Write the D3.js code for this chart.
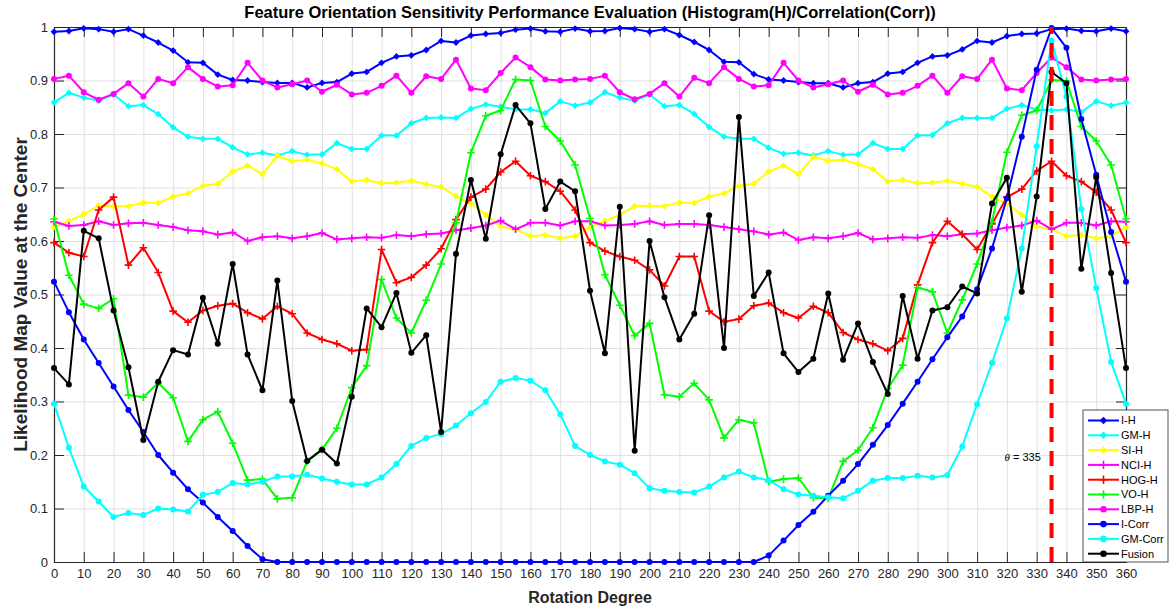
<!DOCTYPE html>
<html>
<head>
<meta charset="utf-8">
<script src="https://cdn.jsdelivr.net/npm/d3@7"></script>
<style>
  body { margin: 0; background: #ffffff; }
  svg { display: block; font-family: "Liberation Sans", Arial, Helvetica, sans-serif; }
</style>
</head>
<body>
<svg id="chart" width="1173" height="609"></svg>
<script>
// Rotation angles (degrees) at which every feature was evaluated
const rotationDeg = [0,5,10,15,20,25,30,35,40,45,50,55,60,65,70,75,80,85,90,95,100,105,110,115,120,125,130,135,140,145,150,155,160,165,170,175,180,185,190,195,200,205,210,215,220,225,230,235,240,245,250,255,260,265,270,275,280,285,290,295,300,305,310,315,320,325,330,335,340,345,350,355,360];

// Likelihood map value at the centre, one array per feature
const iH = [0.991,0.9925,0.9975,0.996,0.991,0.996,0.984,0.971,0.956,0.934,0.933,0.911,0.901,0.9,0.897,0.8955,0.8955,0.887,0.8955,0.897,0.913,0.916,0.933,0.945,0.947,0.957,0.974,0.971,0.984,0.987,0.989,0.995,0.997,0.992,0.991,0.997,0.992,
  0.9925,0.998,0.996,0.991,0.996,0.985,0.972,0.957,0.935,0.934,0.912,0.902,0.9,0.897,0.895,0.895,0.887,0.895,0.897,0.913,0.916,0.933,0.945,0.947,0.958,0.974,0.971,0.983,0.987,0.988,0.996,0.997,0.993,0.992,0.997,0.992];
const gmH = [0.859,0.877,0.868,0.862,0.874,0.852,0.854,0.837,0.8125,0.795,0.791,0.791,0.775,0.762,0.765,0.76,0.768,0.761,0.762,0.783,0.772,0.772,0.797,0.797,0.82,0.83,0.831,0.83,0.847,0.855,0.851,0.846,0.846,0.839,0.861,0.853,0.859,
  0.878,0.868,0.862,0.874,0.852,0.854,0.8375,0.813,0.795,0.791,0.791,0.774,0.763,0.765,0.76,0.768,0.761,0.762,0.783,0.772,0.772,0.797,0.798,0.82,0.83,0.83,0.83,0.847,0.854,0.846,0.844,0.846,0.841,0.861,0.853,0.859];
const siH = [0.626,0.637,0.65,0.666,0.665,0.665,0.672,0.671,0.683,0.689,0.703,0.707,0.730,0.741,0.725,0.759,0.749,0.752,0.745,0.734,0.711,0.714,0.708,0.709,0.7125,0.706,0.701,0.684,0.67,0.649,0.627,0.622,0.609,0.611,0.605,0.609,0.626,
  0.637,0.649,0.665,0.666,0.665,0.672,0.671,0.683,0.689,0.703,0.707,0.730,0.741,0.725,0.757,0.75,0.752,0.744,0.734,0.711,0.714,0.708,0.709,0.7125,0.707,0.701,0.683,0.67,0.649,0.627,0.622,0.609,0.611,0.605,0.609,0.626];
const nciH = [0.636,0.628,0.630,0.637,0.630,0.633,0.634,0.630,0.626,0.620,0.618,0.612,0.616,0.600,0.607,0.609,0.605,0.609,0.615,0.603,0.605,0.607,0.606,0.611,0.609,0.6125,0.614,0.62,0.624,0.629,0.638,0.622,0.634,0.634,0.629,0.637,0.637,
  0.629,0.630,0.632,0.637,0.63,0.632,0.632,0.63,0.626,0.622,0.618,0.612,0.616,0.602,0.607,0.605,0.609,0.615,0.603,0.605,0.607,0.606,0.611,0.609,0.6125,0.614,0.62,0.625,0.629,0.638,0.622,0.634,0.634,0.629,0.637,0.636];
const hogH = [0.597,0.578,0.571,0.658,0.682,0.555,0.5875,0.541,0.469,0.448,0.470,0.479,0.483,0.466,0.4545,0.478,0.464,0.428,0.416,0.408,0.395,0.397,0.584,0.522,0.532,0.555,0.5855,0.64,0.682,0.697,0.729,0.749,0.722,0.711,0.693,0.658,0.597,
  0.581,0.571,0.564,0.546,0.516,0.571,0.571,0.469,0.449,0.454,0.479,0.484,0.466,0.456,0.478,0.466,0.429,0.416,0.408,0.395,0.418,0.518,0.597,0.637,0.6125,0.584,0.632,0.682,0.697,0.731,0.749,0.722,0.711,0.691,0.658,0.597];
const voH = [0.641,0.536,0.482,0.474,0.492,0.312,0.308,0.335,0.307,0.2255,0.266,0.281,0.222,0.153,0.155,0.118,0.12,0.188,0.21,0.25,0.326,0.367,0.528,0.456,0.428,0.489,0.557,0.634,0.765,0.834,0.844,0.902,0.9,0.814,0.787,0.742,0.642,
  0.537,0.48,0.423,0.446,0.3125,0.309,0.334,0.303,0.232,0.266,0.26,0.15,0.155,0.157,0.12,0.119,0.188,0.209,0.251,0.324,0.368,0.513,0.505,0.428,0.49,0.557,0.636,0.766,0.835,0.844,0.901,0.899,0.814,0.787,0.742,0.641];
const lbpH = [0.903,0.909,0.878,0.864,0.875,0.895,0.870,0.903,0.895,0.925,0.903,0.889,0.891,0.933,0.9,0.887,0.893,0.9,0.879,0.892,0.874,0.877,0.89,0.909,0.877,0.908,0.903,0.939,0.885,0.882,0.914,0.943,0.925,0.902,0.9,0.902,0.903,
  0.909,0.878,0.865,0.875,0.895,0.87,0.905,0.895,0.925,0.903,0.889,0.891,0.933,0.9,0.887,0.893,0.9,0.879,0.892,0.874,0.877,0.89,0.909,0.877,0.908,0.903,0.939,0.885,0.882,0.914,0.943,0.925,0.902,0.9,0.902,0.903];
const iCorr = [0.524,0.467,0.416,0.372,0.328,0.284,0.243,0.2,0.167,0.136,0.111,0.084,0.058,0.03,0.005,
  0,0,0,0,0,0,0,0,0,0,0,0,0,0,0,0,0,0,0,0,0,0,0,0,0,0,0,0,0,0,0,0,0,
  0.012,0.04,0.069,0.094,0.124,0.152,0.183,0.219,0.256,0.296,0.337,0.379,0.42,0.459,0.51,0.586,0.68,0.795,0.92,0.998,0.961,0.828,0.724,0.617,0.524];
const gmCorr = [0.296,0.2135,0.141,0.113,0.084,0.0915,0.088,0.1,0.098,0.0945,0.1255,0.131,0.1475,0.145,0.15,0.16,0.16,0.163,0.156,0.15,0.145,0.145,0.158,0.183,0.217,0.232,0.239,0.255,0.278,0.299,0.337,0.344,0.339,0.321,0.276,0.217,0.2,
  0.188,0.182,0.166,0.138,0.133,0.131,0.13,0.141,0.158,0.169,0.158,0.153,0.136,0.126,0.124,0.121,0.119,0.133,0.152,0.157,0.157,0.161,0.158,0.162,0.216,0.295,0.372,0.455,0.586,0.777,0.975,0.87,0.66,0.512,0.374,0.296];
const fusion = [0.3625,0.332,0.619,0.605,0.47,0.364,0.228,0.337,0.396,0.388,0.494,0.408,0.557,0.388,0.321,0.526,0.301,0.189,0.21,0.184,0.309,0.474,0.439,0.503,0.391,0.424,0.243,0.576,0.714,0.604,0.762,0.854,0.82,0.66,0.711,0.693,0.507,
  0.39,0.664,0.208,0.6,0.495,0.416,0.464,0.648,0.4,0.832,0.497,0.541,0.39,0.355,0.38,0.502,0.378,0.446,0.374,0.314,0.497,0.38,0.47,0.476,0.515,0.502,0.67,0.718,0.505,0.683,0.916,0.895,0.548,0.719,0.54,0.3625];

const seriesNames = ["I-H","GM-H","SI-H","NCI-H","HOG-H","VO-H","LBP-H","I-Corr","GM-Corr","Fusion"];
const xTickValues = [0,10,20,30,40,50,60,70,80,90,100,110,120,130,140,150,160,170,180,190,200,210,220,230,240,250,260,270,280,290,300,310,320,330,340,350,360];
const yTickValues = [0,0.1,0.2,0.3,0.4,0.5,0.6,0.7,0.8,0.9,1];
const yTickLabels = ["0","0.1","0.2","0.3","0.4","0.5","0.6","0.7","0.8","0.9","1"];
const bestAngle = 335;

// Series table: values plus drawing style
const series = [
  { name: seriesNames[0], values: iH,     color: "#0000ff", marker: "diamond" },
  { name: seriesNames[1], values: gmH,    color: "#00ffff", marker: "diamond" },
  { name: seriesNames[2], values: siH,    color: "#ffff00", marker: "diamond" },
  { name: seriesNames[3], values: nciH,   color: "#ff00ff", marker: "plus" },
  { name: seriesNames[4], values: hogH,   color: "#ff0000", marker: "plus" },
  { name: seriesNames[5], values: voH,    color: "#00ff00", marker: "plus" },
  { name: seriesNames[6], values: lbpH,   color: "#ff00ff", marker: "circle" },
  { name: seriesNames[7], values: iCorr,  color: "#0000ff", marker: "circle" },
  { name: seriesNames[8], values: gmCorr, color: "#00ffff", marker: "circle" },
  { name: seriesNames[9], values: fusion, color: "#000000", marker: "circle" }
];

const plot = { left: 54, right: 1126, top: 27, bottom: 562 };
const svg = d3.select("#chart");
svg.append("rect").attr("width", 1173).attr("height", 609).attr("fill", "#ffffff");

const x = d3.scaleLinear().domain([0, 360]).range([plot.left, plot.right]);
const y = d3.scaleLinear().domain([0, 1]).range([plot.bottom, plot.top]);

// Grid
const gridColor = "#e1e1e1";
const gx = svg.append("g").attr("transform", `translate(0,${plot.bottom})`)
  .call(d3.axisBottom(x).tickValues(xTickValues).tickSize(-(plot.bottom - plot.top)).tickFormat(""));
const gy = svg.append("g").attr("transform", `translate(${plot.left},0)`)
  .call(d3.axisLeft(y).tickValues(yTickValues).tickSize(-(plot.right - plot.left)).tickFormat(""));
[gx, gy].forEach(g => {
  g.select(".domain").remove();
  g.selectAll(".tick line").attr("stroke", gridColor).attr("stroke-width", 1);
});

// Axes (box with inward ticks on all sides)
const axisColor = "#262626";
const tickLen = 10;
const axB = svg.append("g").attr("transform", `translate(0,${plot.bottom})`)
  .call(d3.axisBottom(x).tickValues(xTickValues).tickSizeInner(-tickLen).tickSizeOuter(0).tickPadding(7));
const axT = svg.append("g").attr("transform", `translate(0,${plot.top})`)
  .call(d3.axisTop(x).tickValues(xTickValues).tickSizeInner(-tickLen).tickSizeOuter(0).tickFormat(""));
const axL = svg.append("g").attr("transform", `translate(${plot.left},0)`)
  .call(d3.axisLeft(y).tickValues(yTickValues).tickSizeInner(-tickLen).tickSizeOuter(0).tickPadding(6)
    .tickFormat((d, i) => yTickLabels[i]));
const axR = svg.append("g").attr("transform", `translate(${plot.right},0)`)
  .call(d3.axisRight(y).tickValues(yTickValues).tickSizeInner(-tickLen).tickSizeOuter(0).tickFormat(""));
[axB, axT, axL, axR].forEach(g => {
  g.select(".domain").attr("stroke", axisColor).attr("stroke-width", 1.2);
  g.selectAll(".tick line").attr("stroke", axisColor).attr("stroke-width", 1);
  g.selectAll(".tick text").attr("fill", axisColor).attr("font-size", 13)
    .attr("font-family", "'Liberation Sans', Arial, sans-serif");
});

// Marker drawing helper
function drawMarker(sel, kind, color, cx, cy, scale = 1) {
  if (kind === "circle") {
    sel.append("circle").attr("cx", cx).attr("cy", cy).attr("r", 3 * scale).attr("fill", color);
  } else if (kind === "diamond") {
    const s = 3.4 * scale;
    sel.append("path").attr("d", `M${cx},${cy - s}L${cx + s},${cy}L${cx},${cy + s}L${cx - s},${cy}Z`).attr("fill", color);
  } else {
    const s = 3.8 * scale;
    sel.append("path").attr("d", `M${cx - s},${cy}H${cx + s}M${cx},${cy - s}V${cy + s}`)
      .attr("stroke", color).attr("stroke-width", 1.6).attr("fill", "none");
  }
}

// Series lines and markers
const line = d3.line().x((d, i) => x(rotationDeg[i])).y(d => y(d));
series.forEach(s => {
  const g = svg.append("g");
  g.append("path").attr("d", line(s.values)).attr("fill", "none")
    .attr("stroke", s.color).attr("stroke-width", 2).attr("stroke-linejoin", "round");
  s.values.forEach((v, i) => drawMarker(g, s.marker, s.color, x(rotationDeg[i]), y(v)));
});

// Best-orientation marker
svg.append("line")
  .attr("x1", x(bestAngle)).attr("x2", x(bestAngle))
  .attr("y1", y(0)).attr("y2", y(1))
  .attr("stroke", "#ff0000").attr("stroke-width", 4).attr("stroke-dasharray", "15,9");
const thetaLabel = svg.append("text").attr("x", x(bestAngle) - 47).attr("y", y(0.197) + 4)
  .attr("font-size", 11).attr("fill", "#000");
thetaLabel.append("tspan").attr("font-style", "italic").attr("font-family", "'Liberation Serif', serif").text("θ");
thetaLabel.append("tspan").text(" = " + bestAngle);

// Title and axis labels
svg.append("text").attr("x", (plot.left + plot.right) / 2).attr("y", 18)
  .attr("text-anchor", "middle").attr("font-weight", "bold").attr("font-size", 16.5).attr("fill", "#000")
  .text("Feature Orientation Sensitivity Performance Evaluation (Histogram(H)/Correlation(Corr))");
svg.append("text").attr("x", (plot.left + plot.right) / 2).attr("y", 603)
  .attr("text-anchor", "middle").attr("font-weight", "bold").attr("font-size", 16).attr("fill", "#262626")
  .text("Rotation Degree");
svg.append("text").attr("transform", `translate(27,${(plot.top + plot.bottom) / 2}) rotate(-90)`)
  .attr("text-anchor", "middle").attr("font-weight", "bold").attr("font-size", 19).attr("fill", "#262626")
  .text("Likelihood Map Value at the Center");

// Legend
const legend = svg.append("g");
const lg = { x: 1083, y: 410, w: 85, h: 152, row: 14.8 };
legend.append("rect").attr("x", lg.x).attr("y", lg.y).attr("width", lg.w).attr("height", lg.h)
  .attr("fill", "#ffffff").attr("stroke", axisColor).attr("stroke-width", 0.8);
series.forEach((s, i) => {
  const cy = lg.y + 10.5 + i * lg.row;
  legend.append("line").attr("x1", lg.x + 5).attr("x2", lg.x + 36).attr("y1", cy).attr("y2", cy)
    .attr("stroke", s.color).attr("stroke-width", 2);
  drawMarker(legend, s.marker, s.color, lg.x + 20.5, cy, 1.1);
  legend.append("text").attr("x", lg.x + 38).attr("y", cy).attr("dy", "0.36em")
    .attr("font-size", 11).attr("fill", "#000").text(s.name);
});
</script>
</body>
</html>
